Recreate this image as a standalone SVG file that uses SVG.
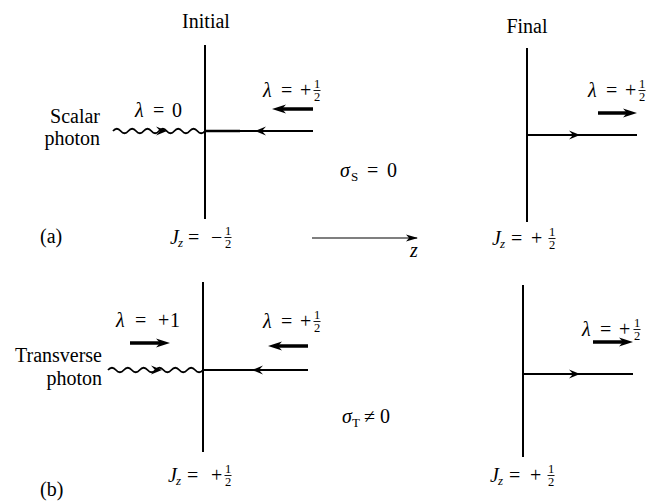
<svg xmlns="http://www.w3.org/2000/svg" xmlns:xlink="http://www.w3.org/1999/xlink" width="648" height="502" viewBox="0 0 648 502">
<style>
.t{font-family:"Liberation Serif","Times New Roman","DejaVu Serif",serif;font-size:20px;fill:#000}
.i{font-style:italic}
.sub{font-family:"Liberation Serif","Times New Roman","DejaVu Serif",serif;font-size:13px;fill:#000}
.f{font-family:"Liberation Serif","Times New Roman","DejaVu Serif",serif;font-size:12.5px;fill:#000;text-anchor:middle}
.ln{stroke:#000;stroke-width:1.8;fill:none}
.ax{stroke:#000;stroke-width:2;fill:none}
.wv{stroke:#000;stroke-width:1.8;fill:none}
.thk{stroke:#000;stroke-width:3.5;fill:none}
.bar{stroke:#000;stroke-width:0.9}
</style>
<defs>
<marker id="thead" viewBox="0 0 14 10" refX="8" refY="5" markerWidth="14" markerHeight="10" markerUnits="userSpaceOnUse" orient="auto">
<path d="M0,0.5 L14,5 L0,9.5 L4,5 Z" fill="#000"/>
</marker>
<marker id="zhead" viewBox="0 0 12 8" refX="11" refY="4" markerWidth="12" markerHeight="8" markerUnits="userSpaceOnUse" orient="auto">
<path d="M0,0.5 L12,4 L0,7.5 L3,4 Z" fill="#000"/>
</marker>
<path id="chev" d="M-11,-4.5 L0,0 L-11,4.5 L-7,0 Z" fill="#000"/>
<g id="half">
<text class="f" x="0" y="-9">1</text>
<line class="bar" x1="-3.5" y1="-6.5" x2="3.5" y2="-6.5"/>
<text class="f" x="0" y="3.5">2</text>
</g>
</defs>

<g id="connectors">
<!-- panel (a) initial -->
<line class="ax" x1="205" y1="45" x2="205" y2="219"/>
<path class="wv" d="M113,131 q3.83,-4.5 7.67,0 t7.67,0 t7.67,0 t7.67,0 t7.67,0 t7.67,0 t7.67,0 t7.67,0 t7.67,0 t7.67,0 t7.67,0 t7.67,0"/>
<line class="ln" x1="205" y1="131" x2="313" y2="131"/>
<line x1="205" y1="131" x2="240" y2="131" stroke="#000" stroke-width="2.6"/>
<use xlink:href="#chev" href="#chev" transform="translate(167,131)"/>
<use xlink:href="#chev" href="#chev" transform="translate(255,131) rotate(180)"/>
<line class="thk" x1="313" y1="109" x2="278" y2="109" marker-end="url(#thead)"/>
<!-- panel (a) final -->
<line class="ax" x1="527" y1="48" x2="527" y2="222"/>
<line class="ln" x1="527" y1="135" x2="637" y2="135"/>
<use xlink:href="#chev" href="#chev" transform="translate(580,135)"/>
<line class="thk" x1="598" y1="113" x2="631" y2="113" marker-end="url(#thead)"/>
<!-- z axis -->
<line x1="312" y1="238" x2="417" y2="238" stroke="#000" stroke-width="1.2" marker-end="url(#zhead)"/>
<!-- panel (b) initial -->
<line class="ax" x1="203" y1="282" x2="203" y2="452"/>
<path class="wv" d="M108,370 q3.96,-4.5 7.92,0 t7.92,0 t7.92,0 t7.92,0 t7.92,0 t7.92,0 t7.92,0 t7.92,0 t7.92,0 t7.92,0 t7.92,0 t7.92,0"/>
<line class="ln" x1="203" y1="370" x2="308" y2="370"/>
<use xlink:href="#chev" href="#chev" transform="translate(162,370)"/>
<use xlink:href="#chev" href="#chev" transform="translate(252,370) rotate(180)"/>
<line class="thk" x1="130" y1="343" x2="164" y2="343" marker-end="url(#thead)"/>
<line class="thk" x1="308" y1="346" x2="274" y2="346" marker-end="url(#thead)"/>
<!-- panel (b) final -->
<line class="ax" x1="523" y1="285" x2="523" y2="457"/>
<line class="ln" x1="523" y1="374" x2="633" y2="374"/>
<use xlink:href="#chev" href="#chev" transform="translate(580,374)"/>
<line class="thk" x1="593" y1="342" x2="627" y2="342" marker-end="url(#thead)"/>
</g>

<g id="titles">
<text class="t" x="206" y="28" text-anchor="middle">Initial</text>
<text class="t" x="527" y="33" text-anchor="middle">Final</text>
</g>

<g id="panel-a-initial">
<text class="t" x="100" y="123" text-anchor="end">Scalar</text>
<text class="t" x="100" y="145" text-anchor="end">photon</text>
<text class="t" x="135" y="117"><tspan class="i">λ</tspan><tspan x="153">=</tspan><tspan x="172">0</tspan></text>
<text class="t" x="263" y="97"><tspan class="i">λ</tspan><tspan x="281">=</tspan><tspan x="300">+</tspan></text>
<use xlink:href="#half" href="#half" transform="translate(317,97)"/>
<text class="t" x="40" y="243">(a)</text>
<text class="t" x="170" y="244"><tspan class="i">J</tspan></text>
<text class="sub" x="178" y="247" font-style="italic">z</text>
<text class="t" x="188" y="244">=</text>
<text class="t" x="211" y="244">−</text>
<use xlink:href="#half" href="#half" transform="translate(228,244)"/>
</g>

<g id="panel-a-middle">
<text class="t" x="340" y="177"><tspan class="i">σ</tspan></text>
<text class="sub" x="351" y="181">S</text>
<text class="t" x="367" y="177">=</text>
<text class="t" x="387" y="177">0</text>
<text class="t i" x="410" y="257" font-style="italic">z</text>
</g>

<g id="panel-a-final">
<text class="t" x="588" y="97"><tspan class="i">λ</tspan><tspan x="606">=</tspan><tspan x="625">+</tspan></text>
<use xlink:href="#half" href="#half" transform="translate(642,97)"/>
<text class="t" x="492" y="245"><tspan class="i">J</tspan></text>
<text class="sub" x="500" y="248" font-style="italic">z</text>
<text class="t" x="511" y="245">=</text>
<text class="t" x="531" y="245">+</text>
<use xlink:href="#half" href="#half" transform="translate(552,245)"/>
</g>

<g id="panel-b-initial">
<text class="t" x="102" y="362" text-anchor="end">Transverse</text>
<text class="t" x="102" y="385" text-anchor="end">photon</text>
<text class="t" x="116" y="327"><tspan class="i">λ</tspan><tspan x="135">=</tspan><tspan x="158">+</tspan><tspan x="170">1</tspan></text>
<text class="t" x="263" y="328"><tspan class="i">λ</tspan><tspan x="281">=</tspan><tspan x="300">+</tspan></text>
<use xlink:href="#half" href="#half" transform="translate(317,328)"/>
<text class="t" x="40" y="496">(b)</text>
<text class="t" x="168" y="482"><tspan class="i">J</tspan></text>
<text class="sub" x="176" y="485" font-style="italic">z</text>
<text class="t" x="187" y="482">=</text>
<text class="t" x="211" y="482">+</text>
<use xlink:href="#half" href="#half" transform="translate(228,482)"/>
</g>

<g id="panel-b-middle">
<text class="t" x="342" y="423"><tspan class="i">σ</tspan></text>
<text class="sub" x="352" y="427">T</text>
<text class="t" x="364" y="423">≠</text>
<text class="t" x="380" y="423">0</text>
</g>

<g id="panel-b-final">
<text class="t" x="582" y="336"><tspan class="i">λ</tspan><tspan x="600">=</tspan><tspan x="619">+</tspan></text>
<use xlink:href="#half" href="#half" transform="translate(637,336)"/>
<text class="t" x="490" y="482"><tspan class="i">J</tspan></text>
<text class="sub" x="498" y="485" font-style="italic">z</text>
<text class="t" x="509" y="482">=</text>
<text class="t" x="530" y="482">+</text>
<use xlink:href="#half" href="#half" transform="translate(551,482)"/>
</g>
</svg>
